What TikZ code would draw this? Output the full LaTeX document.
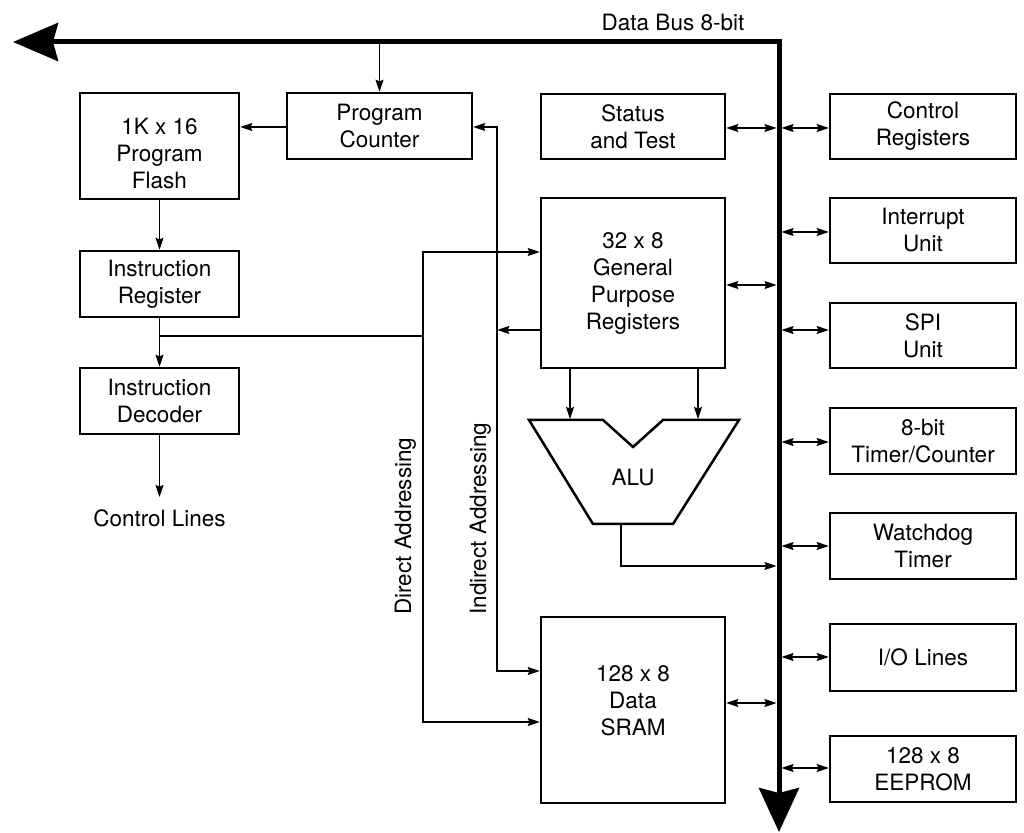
\documentclass[tikz,border=0pt]{standalone}
\usepackage{fontspec}
\setmainfont{TeX Gyre Heros}
\usetikzlibrary{arrows.meta}
\newcommand\bx[6]{\node[box, minimum width={(#4-#2)*0.5pt}, minimum height={(#5-#3)*0.5pt}] (#1) at ({(#2+#4)/2},{(#3+#5)/2}) {#6};}
\begin{document}
\begin{tikzpicture}[x=0.5pt,y=-0.5pt,
  box/.style={draw, line width=1.25pt, align=center, inner sep=0pt, font=\fontsize{11.25}{13.5}\selectfont},
  lbl/.style={inner sep=0pt, align=center, font=\fontsize{11.25}{13.5}\selectfont},
  tip/.tip={Stealth[length=6pt,width=4pt,inset=0.8pt]},
  conn/.style={line width=0.6pt, -tip},
  dbl/.style={line width=0.6pt, tip-tip},
  bus/.style={line width=2.5pt, line join=miter, {Stealth[length=22.5pt,width=19pt,inset=2.5pt]}-{Stealth[length=22pt,width=20pt,inset=2.5pt]}}
]
\useasboundingbox (0,0) rectangle (1024,833);

% data bus
\coordinate (busend) at (13,42);
\coordinate (corner) at (779,42);
\coordinate (bustip) at (779,832);
\coordinate (bl) at (776.5,0);
\coordinate (br) at (781.5,0);
\coordinate (bbot) at (0,44.5);
\draw[bus] (busend) -- (corner) -- (bustip);
\node[lbl] (dbus) at (673,22) {Data Bus 8-bit};

% boxes
\bx{fl}{80}{93}{239}{199}{}
\node[lbl] (fltxt) at (159.5,153.5) {1K x 16\\Program\\Flash};
\bx{pc}{287}{93}{472}{159}{Program\\Counter}
\bx{st}{541}{94}{725}{159}{Status\\and Test}
\bx{cr}{830}{94}{1016}{159}{Control\\Registers}
\bx{ir}{80}{251}{239}{317}{Instruction\\Register}
\bx{id}{80}{368}{239}{434}{Instruction\\Decoder}
\bx{gpr}{541}{198}{725}{368}{32 x 8\\General\\Purpose\\Registers}
\bx{iu}{830}{198}{1016}{263}{Interrupt\\Unit}
\bx{spi}{830}{303}{1016}{368}{SPI\\Unit}
\bx{tc}{830}{408}{1016}{474}{8-bit\\Timer/Counter}
\bx{wd}{830}{513}{1016}{579}{Watchdog\\Timer}
\bx{io}{830}{624}{1016}{691}{I/O Lines}
\bx{ee}{830}{736}{1016}{802}{128 x 8\\EEPROM}
\bx{sram}{541}{617}{725}{803}{}
\node[lbl] (sramtxt) at (633,701) {128 x 8\\Data\\SRAM};

% ALU
\coordinate (aluA) at (529,420);
\coordinate (aluB) at (603,420);
\coordinate (aluC) at (633,447);
\coordinate (aluD) at (663,420);
\coordinate (aluE) at (739,420);
\coordinate (aluF) at (673,524);
\coordinate (aluG) at (593,524);
\draw[line width=1.25pt, line join=miter] (aluA) -- (aluB) -- (aluC) -- (aluD) -- (aluE) -- (aluF) -- (aluG) -- cycle;
\node[lbl] (alu) at (633,478) {ALU};
\coordinate (aluout) at (621,524);

% control flow
\draw[conn] (pc.north |- bbot) -- (pc.north);
\draw[conn] (pc.west |- 0,127) -- (fl.east |- 0,127);
\draw[conn] (fl.south) -- (ir.north);
\draw[conn] (ir.south) -- (id.north);
\draw[line width=0.6pt] (ir.south |- 0,336) -- (423,336);
\coordinate (ctlend) at (159.5,497);
\draw[conn] (id.south) -- (ctlend);
\node[lbl] (ctl) at (159.5,518) {Control Lines};

% addressing
\draw[dbl] (pc.east |- 0,127) -- (497,127) -- (497,671) -- (sram.west |- 0,671);
\draw[dbl] (gpr.west |- 0,252) -- (423,252) -- (423,722) -- (sram.west |- 0,722);
\draw[conn] (gpr.west |- 0,330) -- (497.3,330);
\node[lbl, rotate=90, anchor=base west] (da) at (411,615) {Direct Addressing};
\node[lbl, rotate=90, anchor=base west] (ia) at (486,615) {Indirect Addressing};

% GPR to ALU
\draw[conn] (gpr.south -| 570,0) -- (570,419);
\draw[conn] (gpr.south -| 698,0) -- (698,419);
\draw[conn] (aluout) -- (621,566) -- (bl |- 0,566);

% bus connections
\draw[dbl] (st.east |- 0,128) -- (bl |- 0,128);
\draw[dbl] (br |- 0,128) -- (cr.west |- 0,128);
\draw[dbl] (gpr.east |- 0,285) -- (bl |- 0,285);
\draw[dbl] (br |- 0,232) -- (iu.west |- 0,232);
\draw[dbl] (br |- 0,330) -- (spi.west |- 0,330);
\draw[dbl] (br |- 0,442) -- (tc.west |- 0,442);
\draw[dbl] (br |- 0,546) -- (wd.west |- 0,546);
\draw[dbl] (br |- 0,657) -- (io.west |- 0,657);
\draw[dbl] (br |- 0,768) -- (ee.west |- 0,768);
\draw[dbl] (sram.east |- 0,703) -- (bl |- 0,703);
\end{tikzpicture}
\end{document}
